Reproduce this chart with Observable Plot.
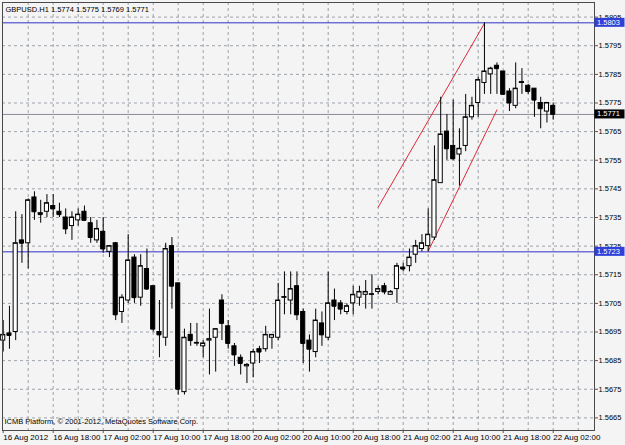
<!DOCTYPE html>
<html><head><meta charset="utf-8">
<script src="https://cdn.jsdelivr.net/npm/d3@7"></script>
<script src="https://cdn.jsdelivr.net/npm/@observablehq/plot@0.6"></script>
<style>
html,body{margin:0;padding:0;background:#f4f4f4;}
#chart{position:relative;width:625px;height:445px;overflow:hidden;}
svg{display:block;}
</style></head><body><div id="chart"></div>
<script>
// ---- data (GBPUSD, H1 bars, index 0 = 16 Aug 2012 10:00) ----
const symbol = "GBPUSD.H1";
const opens = [1.5692,1.56945,1.5695,1.5727,1.5726,1.5742,1.57365,1.5737,1.5739,1.5737,
  1.5735,1.5732,1.5734,1.5737,1.5733,1.5727,1.5730,1.5723,1.5726,1.5702,
  1.5706,1.5721,1.5707,1.5717,1.5711,1.5695,1.5693,1.5725,1.5712,1.5674,
  1.5694,1.5691,1.5690,1.5692,1.5693,1.5706,1.5697,1.5690,1.5686,1.5683,
  1.5684,1.5689,1.5689,1.5693,1.5693,1.5707,1.5706,1.5711,1.5702,1.5692,
  1.5688,1.5698,1.5693,1.5706,1.5705,1.5702,1.5705,1.5707,1.5708,1.5708,
  1.5709,1.5711,1.5708,1.5710,1.57175,1.5718,1.5722,1.5724,1.5725,1.5728,
  1.5747,1.5765,1.5760,1.5757,1.5760,1.5770,1.5775,1.5782,1.5785,1.5788,
  1.5786,1.5779,1.5774,1.5782,1.5781,1.5780,1.5775,1.5772,1.5774];
const highs = [1.5699,1.5704,1.5737,1.5736,1.57415,1.5744,1.5741,1.5743,1.5743,1.5740,
  1.5738,1.5737,1.5738,1.5739,1.5735,1.5734,1.5735,1.57252,1.57263,1.5708,
  1.5729,1.5722,1.5722,1.5724,1.5711,1.5706,1.5726,1.5728,1.5712,1.5696,
  1.5698,1.5698,1.5692,1.5703,1.5696,1.5708,1.5699,1.5691,1.5687,1.5684,
  1.5689,1.5690,1.5697,1.5694,1.5712,1.5716,1.5716,1.5716,1.5703,1.5694,
  1.5703,1.5702,1.5716,1.5710,1.5706,1.57048,1.5711,1.5711,1.5713,1.5715,
  1.5711,1.5712,1.57095,1.5719,1.5719,1.5724,1.5727,1.5729,1.5738,1.5760,
  1.5777,1.5771,1.5776,1.5766,1.5778,1.5777,1.5784,1.5803,1.57875,1.5789,
  1.5786,1.5780,1.5789,1.5787,1.57815,1.5780,1.5777,1.57752,1.5775];
const lows = [1.5688,1.5689,1.5692,1.5719,1.5717,1.5734,1.5733,1.5735,1.5735,1.5735,
  1.5729,1.5727,1.5732,1.5734,1.5726,1.5726,1.57225,1.5721,1.5699,1.5698,
  1.5705,1.5705,1.5704,1.57095,1.5695,1.5686,1.5690,1.5703,1.5673,1.5673,
  1.5690,1.5690,1.5686,1.5680,1.5681,1.5692,1.5689,1.5683,1.5680,1.5677,
  1.5679,1.5684,1.5688,1.5689,1.5692,1.5701,1.5701,1.5699,1.5684,1.5681,
  1.5686,1.5690,1.5692,1.5699,1.5701,1.5701,1.5701,1.5704,1.5703,1.5703,
  1.5708,1.5708,1.5708,1.5705,1.5716,1.5716,1.5719,1.5723,1.5723,1.5727,
  1.5747,1.5755,1.5755,1.5746,1.5758,1.5769,1.5770,1.5778,1.5778,1.5778,
  1.5778,1.5772,1.5773,1.5778,1.5778,1.5770,1.5766,1.5768,1.5769];
const closes = [1.5694,1.56938,1.5726,1.5726,1.5741,1.5737,1.5736,1.5740,1.5738,1.5736,
  1.5731,1.5735,1.5736,1.5734,1.5728,1.5731,1.5724,1.5725,1.5701,1.5707,
  1.5720,1.5707,1.5718,1.5710,1.5696,1.5694,1.5724,1.5711,1.5675,1.5693,
  1.5692,1.56912,1.5691,1.56925,1.5696,1.5698,1.5691,1.5687,1.5684,1.56835,
  1.5688,1.5688,1.5694,1.5694,1.5706,1.57072,1.5710,1.5701,1.5691,1.5689,
  1.5699,1.5694,1.5705,1.5704,1.5703,1.5704,1.5708,1.5709,1.5709,1.57082,
  1.5710,1.5709,1.5709,1.5718,1.5717,1.5721,1.5725,1.5726,1.5729,1.5748,
  1.5764,1.5759,1.57555,1.5759,1.5770,1.5774,1.5783,1.5786,1.5787,1.5787,
  1.5778,1.5775,1.5780,1.57823,1.5779,1.5776,1.5773,1.5775,1.5771];

const timeLabels = ["16 Aug 2012","16 Aug 18:00","17 Aug 02:00","17 Aug 10:00","17 Aug 18:00",
  "20 Aug 02:00","20 Aug 10:00","20 Aug 18:00","21 Aug 02:00","21 Aug 10:00","21 Aug 18:00","22 Aug 02:00"];
const timeLabelBars = [0,8,16,24,32,40,48,56,64,72,80,88];
const gridBars = [4,8,12,16,20,24,28,32,36,40,44,48,52,56,60,64,68,72,76,80,84,88,92];
const priceTicks = [1.5665,1.5675,1.5685,1.5695,1.5705,1.5715,1.5725,1.5735,1.5745,1.5755,1.5765,1.5775,1.5785,1.5795,1.5805];
const levelLines = [1.5803,1.5723];
const bidPrice = 1.5771;
const channelUpperBars = [60,77];
const channelUpperPrices = [1.57386,1.58028];
const channelLowerBars = [68,79];
const channelLowerPrices = [1.57232,1.57726];
const copyright = "ICMB Platform, © 2001-2012, MetaQuotes Software Corp.";

// ---- build ----
const candles = opens.map((o,i)=>({i,o,h:highs[i],l:lows[i],c:closes[i],up:closes[i]>=o}));
const last = candles[candles.length-1];
const title = `${symbol} ${last.o.toFixed(4)} ${last.h.toFixed(4)} ${last.l.toFixed(4)} ${last.c.toFixed(4)}`;
const upper = channelUpperBars.map((b,k)=>({b,p:channelUpperPrices[k]}));
const lower = channelLowerBars.map((b,k)=>({b,p:channelLowerPrices[k]}));
const W = 0.33;
const FONT = "Liberation Sans, Arial, sans-serif";
const gridStyle = {stroke:"#9ca2aa", strokeDasharray:"3,3", strokeWidth:1};

const chart = Plot.plot({
  width:625, height:445,
  marginLeft:2, marginRight:31, marginTop:2, marginBottom:15,
  style:{background:"#f4f4f4", fontFamily:FONT, fontSize:"7.5px", color:"#000", overflow:"visible"},
  x:{domain:[-0.112,94.608], axis:null},
  y:{domain:[1.56606,1.58101], axis:null},
  marks:[
    Plot.frame({fill:"#f4f4f4", stroke:"none"}),
    Plot.ruleY(priceTicks, {...gridStyle}),
    Plot.ruleX(gridBars, {...gridStyle}),
    Plot.ruleY(levelLines, {stroke:"#3030c8", strokeWidth:1}),
    Plot.ruleY([bidPrice], {stroke:"#8a8a9a", strokeWidth:1}),
    Plot.line(upper, {x:"b", y:"p", stroke:"#e0283a", strokeWidth:1}),
    Plot.line(lower, {x:"b", y:"p", stroke:"#e0283a", strokeWidth:1}),
    Plot.ruleX(candles, {x:"i", y1:"l", y2:"h", stroke:"#000", strokeWidth:1}),
    Plot.rect(candles, {x1:d=>d.i-W, x2:d=>d.i+W, y1:d=>Math.min(d.o,d.c), y2:d=>Math.max(d.o,d.c),
      fill:d=>d.up?"#ffffff":"#000000", stroke:"#000", strokeWidth:1}),
    Plot.ruleY(candles, {x1:d=>d.i-W, x2:d=>d.i+W, y:"c", stroke:"#000", strokeWidth:1}),
    Plot.axisY(priceTicks, {anchor:"right", tickSize:3, tickPadding:1, tickFormat:d=>d.toFixed(4),
      fontSize:7.5, stroke:"#555", fill:"#000"}),
    Plot.axisX(timeLabelBars, {anchor:"bottom", tickSize:3, tickPadding:1,
      tickFormat:d=>timeLabels[timeLabelBars.indexOf(d)], textAnchor:"start", dx:0,
      fontSize:8, stroke:"#555", fill:"#000"}),
    Plot.text([title], {frameAnchor:"top-left", dx:3, dy:4, textAnchor:"start", fontSize:7.5, fill:"#000"}),
    Plot.text([copyright], {frameAnchor:"bottom-left", dx:2, dy:-7, textAnchor:"start", fontSize:7.5, fill:"#000"}),
    Plot.frame({stroke:"#4a4a4a", strokeWidth:1})
  ]
});
document.getElementById("chart").appendChild(chart);

// price-tag boxes on the right axis, positioned through the chart's y scale
const ys = chart.scale("y");
const svg = d3.select(chart);
const tags = [
  {p:levelLines[0], bg:"#2f3fd8"},
  {p:bidPrice, bg:"#000000"},
  {p:levelLines[1], bg:"#2f3fd8"}
];
for (const t of tags) {
  const y = ys.apply(t.p);
  const g = svg.append("g").attr("text-anchor","start");
  g.append("rect").attr("x",594.5).attr("y",y-4.5).attr("width",30).attr("height",9).attr("fill",t.bg);
  g.append("text").attr("x",597).attr("y",y).attr("dy","0.34em").attr("text-anchor","start")
    .attr("font-size",7.5).attr("font-family",FONT).attr("fill","#fff").text(t.p.toFixed(4));
}
</script></body></html>
